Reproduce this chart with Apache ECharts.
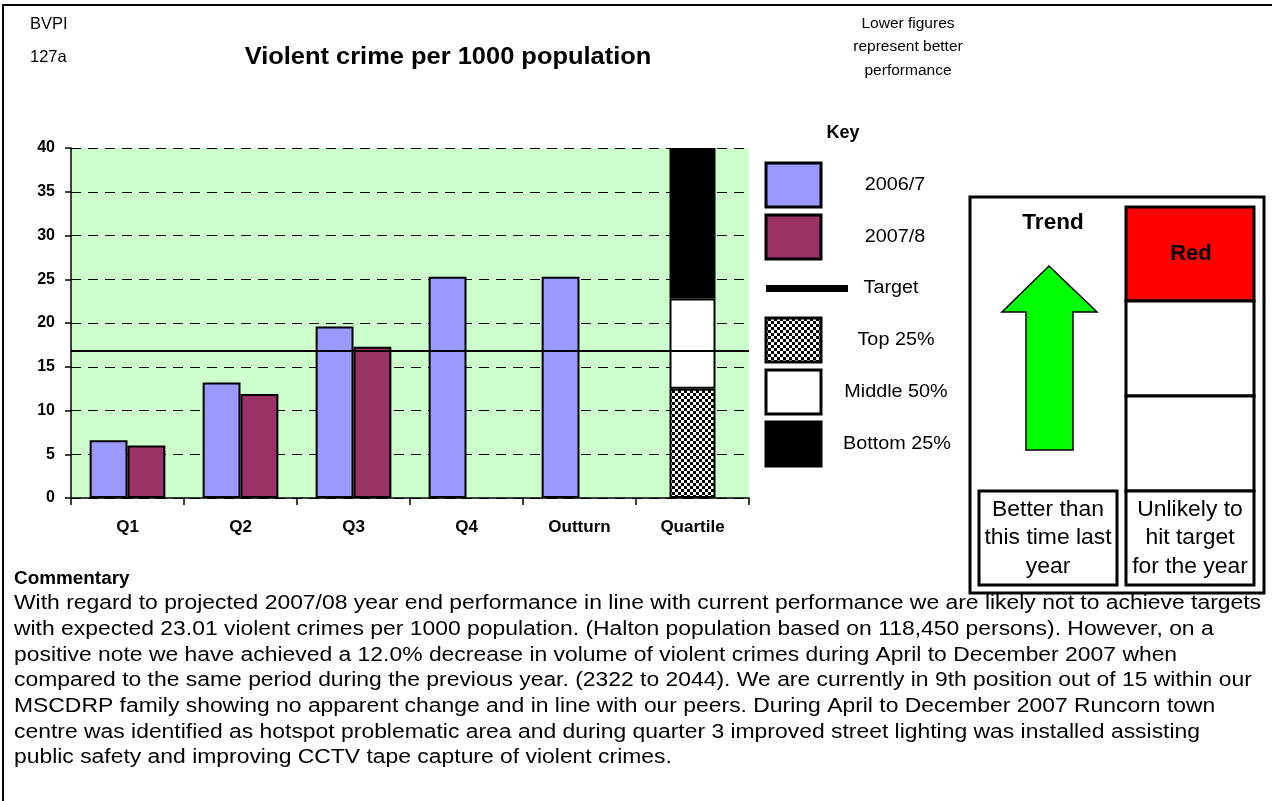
<!DOCTYPE html>
<html>
<head>
<meta charset="utf-8">
<title>BVPI 127a</title>
<script src="https://cdn.jsdelivr.net/npm/echarts@6/dist/echarts.min.js"></script>
<style>
  html, body { margin: 0; padding: 0; background: #fff; }
  #chart { width: 1272px; height: 801px; }
</style>
</head>
<body>
<div id="chart"></div>
<script>
  // categories and values
  var categories = ['Q1', 'Q2', 'Q3', 'Q4', 'Outturn', 'Quartile'];
  var year0607 = [6.6, 13.2, 19.6, 25.3, 25.3, null];
  var year0708 = [6.0, 11.9, 17.3, null, null, null];
  var target = 16.8;
  // quartile band boundaries: top 25% / middle 50% / bottom 25%
  var quartileBounds = [0, 12.5, 22.8, 40];
  var yTicks = { min: 0, max: 40, interval: 5 };

  var commentary = [
    'With regard to projected 2007/08 year end performance in line with current performance we are likely not to achieve targets',
    'with expected 23.01 violent crimes per 1000 population. (Halton population based on 118,450 persons). However, on a',
    'positive note we have achieved a 12.0% decrease in volume of violent crimes during April to December 2007 when',
    'compared to the same period during the previous year. (2322 to 2044). We are currently in 9th position out of 15 within our',
    'MSCDRP family showing no apparent change and in line with our peers. During April to December 2007 Runcorn town',
    'centre was identified as hotspot problematic area and during quarter 3 improved street lighting was installed assisting',
    'public safety and improving CCTV tape capture of violent crimes.'
  ];

  var FONT = '"Liberation Sans", Arial, sans-serif';

  // checkered fill for the "Top 25%" band
  function checker() {
    var c = document.createElement('canvas');
    c.width = 6; c.height = 6;
    var ctx = c.getContext('2d');
    ctx.fillStyle = '#fff';
    ctx.fillRect(0, 0, 6, 6);
    ctx.fillStyle = '#000';
    ctx.fillRect(0, 0, 3, 3);
    ctx.fillRect(3, 3, 3, 3);
    return c;
  }
  var checkerFill = { image: checker(), repeat: 'repeat' };

  function onlyLast(v) {
    return categories.map(function (c, i) { return i === categories.length - 1 ? v : null; });
  }

  var chart = echarts.init(document.getElementById('chart'));

  var bandStyle = [
    { color: checkerFill, borderColor: '#000', borderWidth: 2 },
    { color: '#fff', borderColor: '#000', borderWidth: 2 },
    { color: '#000', borderColor: '#000', borderWidth: 2 }
  ];
  var quartileSeries = bandStyle.map(function (st, i) {
    return {
      name: 'band' + i,
      type: 'bar',
      xAxisIndex: 1,
      stack: 'quartile',
      barWidth: 46,
      silent: true,
      itemStyle: st,
      data: onlyLast(quartileBounds[i + 1] - quartileBounds[i])
    };
  });

  // the source text is a little wider than Arial, hence the optional scaleX
  function txt(x, y, s, opt) {
    opt = opt || {};
    return {
      type: 'text', x: x, y: y, silent: true,
      scaleX: opt.sx || 1,
      style: {
        text: s, fill: '#000',
        font: (opt.bold ? 'bold ' : '') + (opt.size || 18) + 'px ' + FONT,
        textAlign: opt.align || 'center', textVerticalAlign: opt.va || 'middle',
        lineHeight: opt.lh
      }
    };
  }
  function box(x, y, w, h, fill, lw) {
    return {
      type: 'rect', silent: true,
      shape: { x: x, y: y, width: w, height: h },
      style: { fill: fill, stroke: '#000', lineWidth: lw || 2 }
    };
  }

  var graphics = [
    // outer frame
    { type: 'polyline', silent: true, shape: { points: [[3, 801], [3, 5], [1272, 5]] }, style: { stroke: '#000', lineWidth: 2, fill: null } },
    txt(30, 24, 'BVPI', { size: 16.5, align: 'left' }),
    txt(30, 57, '127a', { size: 16.5, align: 'left' }),
    txt(448, 57, 'Violent crime per 1000 population', { size: 24, bold: true, sx: 1.06 }),
    txt(908, 47, 'Lower figures\nrepresent better\nperformance', { size: 15.5, lh: 23.5 }),
    txt(843, 133, 'Key', { size: 18, bold: true }),

    // key
    box(766, 163, 55, 44, '#9999FF', 3),
    box(766, 215, 55, 44, '#993366', 3),
    { type: 'rect', silent: true, shape: { x: 766, y: 285, width: 82, height: 7 }, style: { fill: '#000' } },
    box(766, 318, 55, 44, checkerFill, 3),
    box(766, 370, 55, 44, '#fff', 3),
    box(766, 422, 55, 44, '#000', 3),
    txt(895, 185, '2006/7', { sx: 1.1 }),
    txt(895, 237, '2007/8', { sx: 1.1 }),
    txt(891, 288, 'Target', { sx: 1.1 }),
    txt(896, 340, 'Top 25%', { sx: 1.1 }),
    txt(896, 392, 'Middle 50%', { sx: 1.1 }),
    txt(897, 444, 'Bottom 25%', { sx: 1.1 }),

    // trend panel
    box(970, 197, 294, 396, '#fff', 3),
    txt(1053, 223, 'Trend', { size: 22.5, bold: true }),
    {
      type: 'polygon', silent: true,
      shape: { points: [[1049, 266], [1097, 312], [1073, 312], [1073, 450], [1026, 450], [1026, 312], [1002, 312]] },
      style: { fill: '#00FF00', stroke: '#000', lineWidth: 1.5 }
    },
    box(1126, 207, 128, 94, '#FF0000', 3),
    box(1126, 301, 128, 95, '#fff', 3),
    box(1126, 396, 128, 95, '#fff', 3),
    box(1126, 491, 128, 94, '#fff', 3),
    box(979, 491, 138, 94, '#fff', 3),
    txt(1191, 254, 'Red', { size: 22, bold: true }),
    txt(1048, 538, 'Better than\nthis time last\nyear', { size: 22, lh: 28.5, sx: 1.04 }),
    txt(1190, 538, 'Unlikely to\nhit target\nfor the year', { size: 22, lh: 28.5, sx: 1.04 }),

    // commentary
    txt(14, 579, 'Commentary', { size: 18, bold: true, align: 'left', sx: 1.05 }),
    txt(14, 591, commentary.join('\n'), { size: 19.5, lh: 25.7, align: 'left', va: 'top', sx: 1.174 })
  ];

  chart.setOption({
    animation: false,
    textStyle: { fontFamily: FONT },
    grid: {
      left: 71, right: 523, top: 148, bottom: 303,
      show: true, backgroundColor: '#CCFFCC', borderWidth: 0
    },
    xAxis: [
      {
        type: 'category',
        data: categories,
        axisLine: { lineStyle: { color: '#000', width: 1.5 } },
        axisTick: { show: true, length: 7, lineStyle: { color: '#000', width: 1.5 } },
        axisLabel: { color: '#000', fontWeight: 'bold', fontSize: 17, margin: 21 },
        splitLine: { show: false }
      },
      {
        type: 'category',
        data: categories,
        show: false
      }
    ],
    yAxis: {
      type: 'value',
      min: yTicks.min, max: yTicks.max, interval: yTicks.interval,
      axisLine: { show: true, lineStyle: { color: '#000', width: 1.5 } },
      axisTick: { show: true, length: 6, lineStyle: { color: '#000', width: 1.5 } },
      axisLabel: { color: '#000', fontWeight: 'bold', fontSize: 16, margin: 16 },
      splitLine: { show: true, lineStyle: { color: '#000', width: 1, type: [10, 7] } }
    },
    series: [
      {
        name: '2006/7',
        type: 'bar',
        barGap: 0,
        barCategoryGap: '33%',
        itemStyle: { color: '#9999FF', borderColor: '#000', borderWidth: 2 },
        data: year0607,
        markLine: {
          silent: true,
          symbol: 'none',
          label: { show: false },
          lineStyle: { color: '#000', width: 2, type: 'solid' },
          data: [{ yAxis: target }]
        }
      },
      {
        name: '2007/8',
        type: 'bar',
        itemStyle: { color: '#993366', borderColor: '#000', borderWidth: 2 },
        data: year0708
      }
    ].concat(quartileSeries),
    graphic: graphics
  });
</script>
</body>
</html>
